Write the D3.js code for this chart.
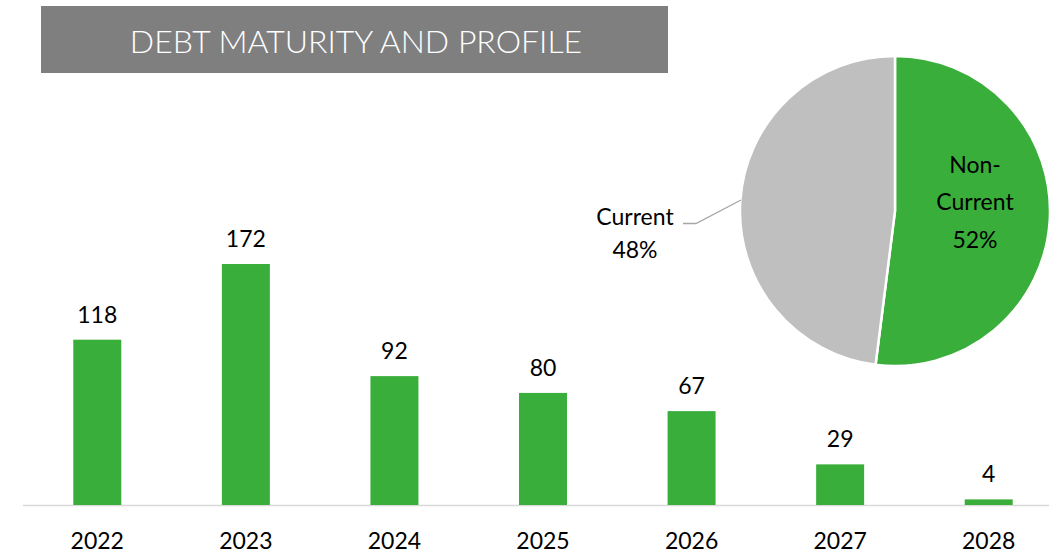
<!DOCTYPE html>
<html><head><meta charset="utf-8">
<script src="https://cdn.jsdelivr.net/npm/d3@7"></script>
<style>body{margin:0;background:#fff}svg{display:block}</style>
</head><body>
<svg id="c" width="1049" height="555"></svg>
<script>
const title = "DEBT MATURITY AND PROFILE";
const years = ["2022","2023","2024","2025","2026","2027","2028"];
const maturities = [118,172,92,80,67,29,4];
const pieLabels = ["Non-Current","Current"];
const pieShares = [52,48];

const svg = d3.select("#c");
const font = "Lato, 'Open Sans', sans-serif";
const green = "#3AAE3A", grey = "#BFBFBF";

// title banner
svg.append("rect").attr("x",41).attr("y",6).attr("width",627).attr("height",67).attr("fill","#7F7F7F");
svg.append("text").attr("x",356).attr("y",53).attr("text-anchor","middle")
  .attr("font-family",font).attr("font-weight",300).attr("font-size",32).attr("fill","#fff").text(title);

// bars
const x = d3.scaleBand().domain(years).range([23,1063]).paddingInner(0.677).paddingOuter(0.3385);
const y = d3.scaleLinear().domain([0,200]).range([505,224.8]);

svg.append("line").attr("x1",23).attr("x2",1049).attr("y1",505.5).attr("y2",505.5).attr("stroke","#D9D9D9").attr("stroke-width",1.5);

svg.selectAll("rect.bar").data(maturities).join("rect").attr("class","bar")
  .attr("x",(d,i)=>x(years[i])).attr("width",x.bandwidth())
  .attr("y",d=>y(d)).attr("height",d=>y(0)-y(d)).attr("fill",green);

svg.selectAll("text.val").data(maturities).join("text").attr("class","val")
  .attr("x",(d,i)=>x(years[i])+x.bandwidth()/2).attr("y",d=>y(d)-17)
  .attr("text-anchor","middle").attr("font-family",font).attr("font-size",23).attr("fill","#000").text(d=>d);

const xAxis = svg.append("g").attr("transform","translate(0,505)").call(d3.axisBottom(x).tickSize(0).tickPadding(28));
xAxis.select(".domain").remove();
xAxis.selectAll("text").attr("font-family",font).attr("font-size",23).attr("fill","#000");

// pie
const cx = 895, cy = 211, r = 155;
const pie = d3.pie().sort(null).value(d=>d)(pieShares);
const arc = d3.arc().innerRadius(0).outerRadius(r);
const pg = svg.append("g").attr("transform",`translate(${cx},${cy})`);
pg.selectAll("path").data(pie).join("path").attr("d",arc)
  .attr("fill",(d,i)=>i===0?green:grey).attr("stroke","#fff").attr("stroke-width",2.5);

// labels
const lab = svg.append("g").attr("font-family",font).attr("font-size",23).attr("fill","#000").attr("text-anchor","middle");
const nc = lab.append("text").attr("x",975);
nc.append("tspan").attr("x",975).attr("y",173).text("Non-");
nc.append("tspan").attr("x",975).attr("y",210).text(pieLabels[0].replace("Non-",""));
nc.append("tspan").attr("x",975).attr("y",248).text(pieShares[0]+"%");
const cu = lab.append("text");
cu.append("tspan").attr("x",635).attr("y",225).text(pieLabels[1]);
cu.append("tspan").attr("x",635).attr("y",258).text(pieShares[1]+"%");

svg.append("polyline").attr("points","683,223.5 696,223.5 741,200").attr("fill","none").attr("stroke","#A6A6A6").attr("stroke-width",1.3);
</script>
</body></html>
